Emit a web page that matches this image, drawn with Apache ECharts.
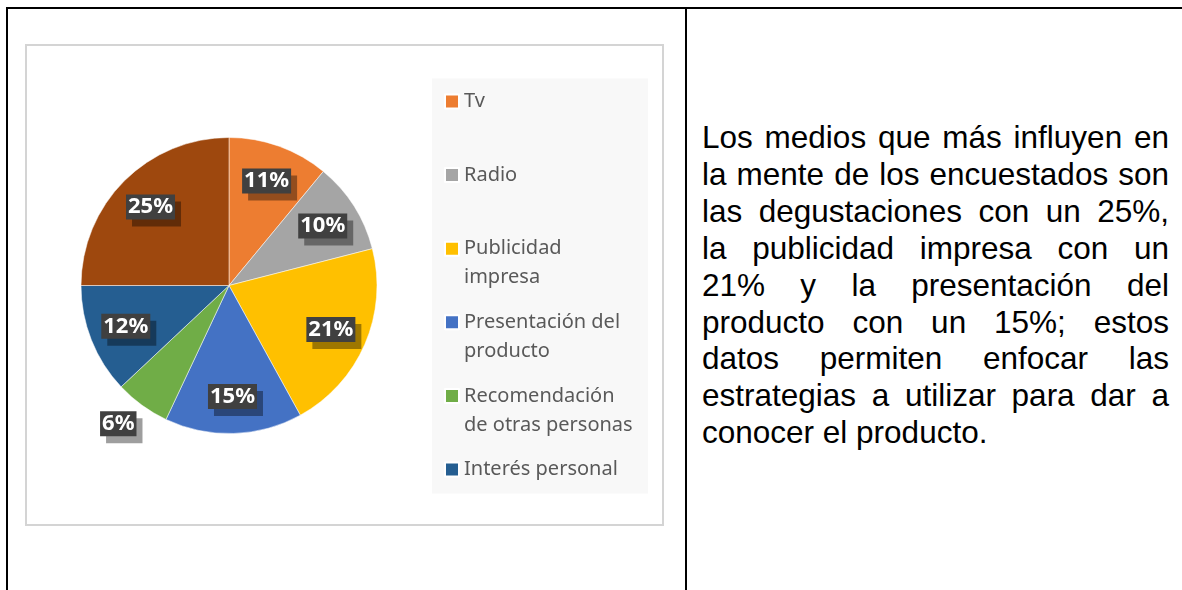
<!DOCTYPE html>
<html lang="es">

<head>
    <meta charset="UTF-8">
    <title>Medios que influyen</title>
    <script src="https://cdn.jsdelivr.net/npm/echarts@6/dist/echarts.min.js"></script>
    <style>
        body {
            margin: 0;
            width: 1182px;
            height: 590px;
            overflow: hidden;
            background: #fff;
            position: relative;
        }

        .frame {
            position: absolute;
            left: 6px;
            top: 7px;
            width: 1200px;
            height: 600px;
            border-top: 2px solid #000;
            border-left: 2px solid #000;
        }

        .divider {
            position: absolute;
            left: 685px;
            top: 7px;
            width: 2px;
            height: 590px;
            background: #000;
        }

        #main {
            position: absolute;
            left: 25px;
            top: 43.5px;
            width: 639px;
            height: 482px;
            box-sizing: border-box;
            border: 2px solid #d4d4d4;
        }

        .texto {
            position: absolute;
            left: 702px;
            top: 119px;
            width: 467px;
            font-family: "Liberation Sans", Arial, sans-serif;
            font-size: 31.5px;
            line-height: 36.9px;
            text-align: justify;
            color: #000;
            margin: 0;
        }
    </style>
</head>

<body>
    <div class="frame"></div>
    <div class="divider"></div>
    <div id="main"></div>
    <p class="texto">Los medios que más influyen en la mente de los encuestados son las degustaciones con un 25%, la publicidad impresa con un 21% y la presentación del producto con un 15%; estos datos permiten enfocar las estrategias a utilizar para dar a conocer el producto.</p>

    <script type="text/javascript">
        // datos de la encuesta (porcentajes)
        var categories = ['Tv', 'Radio', 'Publicidad impresa', 'Presentación del producto',
            'Recomendación de otras personas', 'Interés personal', 'Degustaciones'];
        var values = [11, 10, 21, 15, 6, 12, 25];
        var colors = ['#ED7D31', '#A5A5A5', '#FFC000', '#4472C4', '#70AD47', '#255E91', '#9E480E'];
        // textos de la leyenda como salen cortados en la imagen
        var legendLabels = ['Tv', 'Radio', 'Publicidad\nimpresa', 'Presentación del\nproducto',
            'Recomendación\nde otras personas', 'Interés personal'];
        var legendCount = 6; // la ultima categoria no entra en la leyenda

        var chartDom = document.getElementById('main');
        var myChart = echarts.init(chartDom);

        var pieData = [];
        var labelData = [];
        for (var i = 0; i < categories.length; i++) {
            pieData.push({
                name: categories[i],
                value: values[i],
                itemStyle: { color: colors[i] }
            });
            var item = { name: categories[i], value: values[i] };
            if (values[i] < 8) {
                // la porcion chica lleva la etiqueta afuera
                item.label = { position: 'outside', distanceToLabelLine: -8 };
                item.labelLine = { show: false, length: 23, length2: 0 };
            }
            labelData.push(item);
        }

        var center = [202, 239.5];

        var option = {
            animation: false,
            graphic: [{
                type: 'rect',
                left: 405,
                top: 32.5,
                z: -1,
                shape: { width: 216, height: 415 },
                style: { fill: '#f8f8f8' },
                silent: true
            }],
            legend: {
                orient: 'vertical',
                left: 417,
                top: 12,
                padding: 0,
                itemGap: -13.4,
                itemWidth: 14,
                itemHeight: 14,
                icon: 'rect',
                selectedMode: false,
                data: categories.slice(0, legendCount),
                formatter: function (name) {
                    // tres renglones: vacio, texto, segundo renglon (o vacio)
                    var s = legendLabels[categories.indexOf(name)];
                    return '\n' + (s.indexOf('\n') < 0 ? s + '\n' : s);
                },
                textStyle: {
                    fontFamily: 'Noto Sans',
                    fontSize: 20,
                    lineHeight: 29,
                    color: '#595959'
                }
            },
            series: [{
                    name: 'Medios',
                    type: 'pie',
                    center: center,
                    radius: [0, 148],
                    startAngle: 90,
                    clockwise: true,
                    silent: true,
                    label: { show: false },
                    labelLine: { show: false },
                    itemStyle: { borderColor: '#fff', borderWidth: 0.5 },
                    data: pieData
                },
                {
                    // serie invisible solo para ubicar las etiquetas
                    name: 'Etiquetas',
                    type: 'pie',
                    center: center,
                    radius: [68, 148],
                    startAngle: 90,
                    clockwise: true,
                    silent: true,
                    itemStyle: { color: 'rgba(0,0,0,0)' },
                    label: {
                        show: true,
                        position: 'inside',
                        formatter: '{c}%',
                        fontFamily: 'Noto Sans',
                        fontWeight: 'bold',
                        fontSize: 22,
                        lineHeight: 25,
                        color: '#fff',
                        backgroundColor: '#404040',
                        padding: [0, 2],
                        shadowColor: 'rgba(0,0,0,0.38)',
                        shadowOffsetX: 6,
                        shadowOffsetY: 7
                    },
                    data: labelData
                }
            ]
        };

        option && myChart.setOption(option);
    </script>
</body>

</html>
